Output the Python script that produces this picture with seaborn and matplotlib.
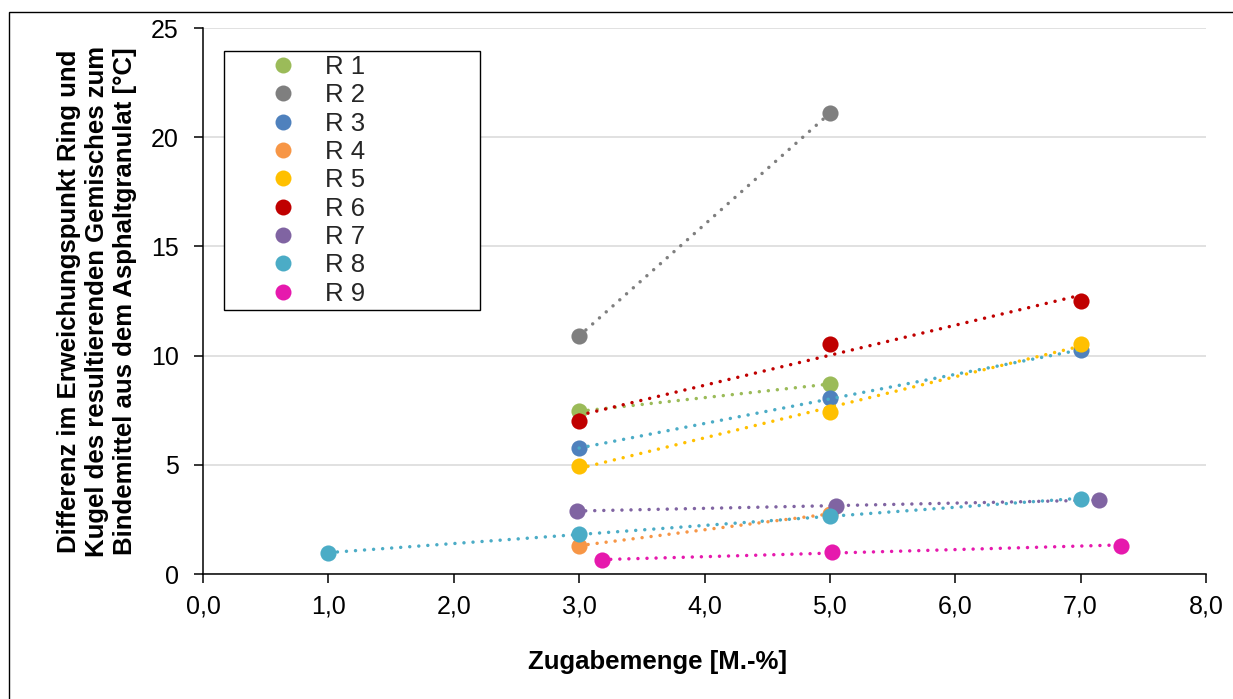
import numpy as np
import pandas as pd
import matplotlib
matplotlib.use("Agg")
import matplotlib.pyplot as plt
import seaborn as sns
from matplotlib.lines import Line2D
from matplotlib.patches import Rectangle

# Series names and colours
series = ["R 1", "R 2", "R 3", "R 4", "R 5", "R 6", "R 7", "R 8", "R 9"]
marker_colors = ["#9BBB59", "#7F7F7F", "#4F81BD", "#F79646", "#FFC000",
                 "#C00000", "#8064A2", "#4BACC6", "#E619AD"]
trend_colors = ["#9BBB59", "#7F7F7F", "#4BACC6", "#F79646", "#FFC000",
                "#C00000", "#8064A2", "#4BACC6", "#E619AD"]

# Measured values: Zugabemenge [M.-%] and temperature difference [°C]
r1_x = [3.0, 5.0]
r1_y = [7.45, 8.7]
r2_x = [3.0, 5.0]
r2_y = [10.9, 21.1]
r3_x = [3.0, 5.0, 7.0]
r3_y = [5.75, 8.05, 10.25]
r4_x = [3.0, 5.0]
r4_y = [1.3, 2.75]
r5_x = [3.0, 5.0, 7.0]
r5_y = [4.95, 7.4, 10.55]
r6_x = [3.0, 5.0, 7.0]
r6_y = [7.0, 10.55, 12.5]
r7_x = [2.98, 5.05, 7.15]
r7_y = [2.9, 3.1, 3.4]
r8_x = [1.0, 3.0, 5.0, 7.0]
r8_y = [0.95, 1.85, 2.65, 3.45]
r9_x = [3.18, 5.02, 7.32]
r9_y = [0.62, 1.03, 1.3]

xs_all = [r1_x, r2_x, r3_x, r4_x, r5_x, r6_x, r7_x, r8_x, r9_x]
ys_all = [r1_y, r2_y, r3_y, r4_y, r5_y, r6_y, r7_y, r8_y, r9_y]

x_ticks = [0, 1, 2, 3, 4, 5, 6, 7, 8]
x_tick_labels = ["0,0", "1,0", "2,0", "3,0", "4,0", "5,0", "6,0", "7,0", "8,0"]
y_ticks = [0, 5, 10, 15, 20, 25]

y_label = ("Differenz im Erweichungspunkt Ring und\n"
           "Kugel des resultierenden Gemisches zum\n"
           "Bindemittel aus dem Asphaltgranulat [°C]")
x_label = "Zugabemenge [M.-%]"

sns.set_theme(style="white")
plt.rcParams["font.family"] = ["Liberation Sans", "DejaVu Sans"]

W, H = 1233, 699
fig = plt.figure(figsize=(W / 100, H / 100), dpi=100)
ax = fig.add_axes([203 / W, 1 - 574 / H, (1206 - 203) / W, (574 - 28) / H])

for i, (name, xs, ys) in enumerate(zip(series, xs_all, ys_all)):
    df = pd.DataFrame({"x": xs, "y": ys})
    sns.scatterplot(data=df, x="x", y="y", color=marker_colors[i], s=135,
                    linewidth=0, ax=ax, legend=False, zorder=3 + 2 * i)
    # linear trend line over the measured range
    sns.regplot(data=df, x="x", y="y", scatter=False, ci=None, truncate=True,
                color=trend_colors[i], ax=ax,
                line_kws=dict(lw=2.5, linestyle=(0, (0.01, 2.6)),
                              dash_capstyle="round", zorder=4 + 2 * i))

ax.set_xlim(0, 8)
ax.set_ylim(0, 25)
ax.set_xticks(x_ticks)
ax.set_xticklabels(x_tick_labels)
ax.set_yticks(y_ticks)
ax.set_xlabel("")
ax.set_ylabel("")

ax.grid(axis="y", color="#D9D9D9", lw=1.1)
ax.grid(axis="x", visible=False)
ax.set_axisbelow(True)
for side in ["top", "right"]:
    ax.spines[side].set_visible(False)
for side in ["left", "bottom"]:
    ax.spines[side].set_color("black")
    ax.spines[side].set_linewidth(1.1)
    ax.spines[side].set_zorder(30)

ax.tick_params(axis="both", which="major", direction="out", length=6.5,
               width=1.1, color="black", labelsize=18, labelcolor="black",
               bottom=True, left=True)
ax.tick_params(axis="y", pad=11)
ax.tick_params(axis="x", pad=8)

fig.text(97 / W, 1 - 301 / H, y_label, rotation=90, ha="center", va="center",
         multialignment="center", fontsize=18.5, fontweight="bold",
         linespacing=1.22, color="black")
fig.text(658 / W, 1 - 662 / H, x_label, ha="center", va="center",
         fontsize=18.5, fontweight="bold", color="black")

handles = [Line2D([], [], ls="none", marker="o", ms=11.5, mfc=c, mec="none")
           for c in marker_colors]
leg = ax.legend(handles, series, loc="upper left",
                bbox_to_anchor=(224 / W, 1 - 308 / H, 256 / W, 257 / H),
                bbox_transform=fig.transFigure, mode="expand",
                borderaxespad=0, borderpad=0.15, handlelength=4.32,
                handletextpad=-0.55, labelspacing=0.17, fontsize=18.5,
                frameon=True, fancybox=False, edgecolor="black",
                framealpha=1)
leg.get_frame().set_linewidth(1.0)
leg.set_zorder(40)

# chart frame
fig.add_artist(Rectangle((9 / W, -0.1), 1.2, 1 - 12 / H + 0.1,
                         transform=fig.transFigure, fill=False,
                         ec="black", lw=1.0, clip_on=False))

fig.savefig("out.png", dpi=100)
